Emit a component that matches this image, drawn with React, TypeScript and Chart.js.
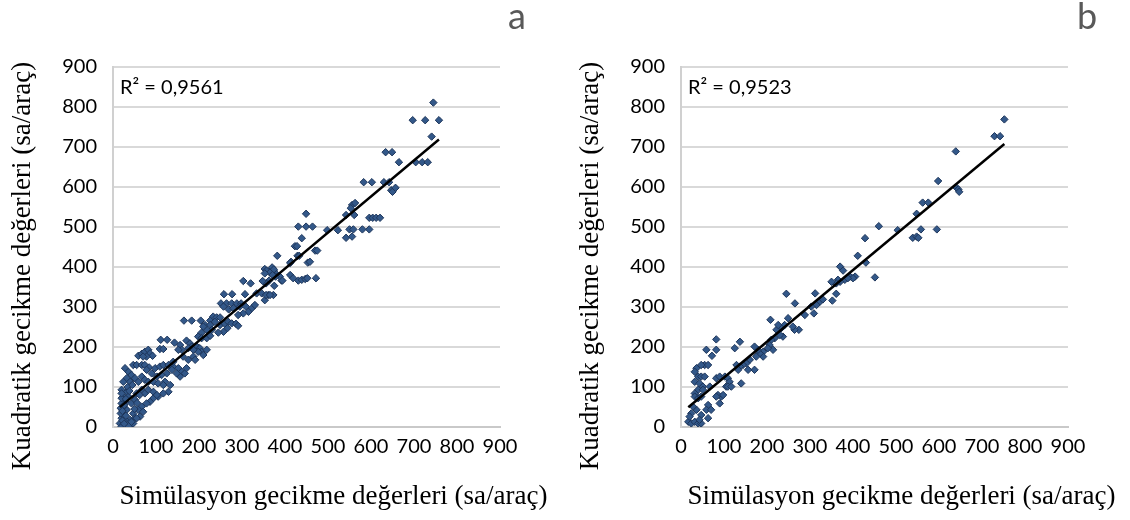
import React, { useEffect, useRef } from "react";
import { Chart, registerables } from "chart.js";

Chart.register(...registerables);

// ---------- data ----------
const simA = [
  745, 697, 726, 758, 741, 704, 719, 732, 665, 634, 649, 583, 602, 630, 642, 647, 650, 657,
  556, 563, 553, 542, 561, 596, 604, 612, 621, 580, 596, 550, 559, 542, 556, 498, 523, 449,
  431, 449, 464, 439, 423, 428, 382, 429, 433, 470, 475, 414, 412, 453, 458, 370, 374, 369,
  377, 353, 412, 419, 431, 439, 447, 452, 472, 363, 356, 392, 361, 373, 353,
  370, 374, 357, 365, 353, 388, 378, 394, 371, 303, 320, 348, 375, 334, 346, 356, 365,
  258, 277, 307, 251, 264, 276, 288, 298, 257, 269, 280, 295, 309, 323, 330, 315, 303, 291,
  165, 183, 204, 233, 241, 249, 226, 214, 226, 237, 249, 260, 268, 276, 286, 291, 266, 257,
  245, 230, 218, 206, 210, 198, 206, 218, 226, 111, 126, 109, 117, 143, 156, 171, 179, 183,
  195, 202, 206, 218, 210, 198, 187, 175, 160, 152, 59, 67, 74, 82, 86, 92, 78, 70, 47, 55,
  67, 74, 84, 98, 109, 117, 129, 140, 137, 125, 113, 102, 90, 78, 152, 160, 167, 156, 171,
  148, 133, 121, 28, 36, 43, 32, 24, 40, 51, 59, 67, 74, 82, 94, 105, 117, 129, 117, 105, 94,
  86, 78, 67, 59, 47, 70, 63, 51, 40, 28, 20, 24, 32, 24, 28, 24, 32, 20, 36, 43, 51, 55, 67,
  74, 82, 94, 102, 16, 24, 32, 40, 47, 20, 36, 28, 43, 55, 18, 18, 20, 20, 20, 140, 163, 175,
  187, 191, 22, 26, 30, 34, 38, 45, 50, 56, 62, 30, 22, 26,
];
const quadA = [
  811, 767, 767, 767, 726, 662, 662, 662, 662, 687, 687, 612, 612, 612, 612, 592, 588, 598,
  555, 560, 547, 530, 530, 523, 523, 523, 523, 494, 494, 494, 494, 473, 476, 492, 492, 533,
  501, 501, 501, 472, 452, 452, 428, 428, 428, 441, 441, 413, 410, 411, 413, 395, 390, 385,
  385, 395, 380, 372, 366, 368, 370, 372, 372, 366, 359, 366, 330, 330, 317,
  399, 394, 391, 386, 384, 376, 376, 366, 380, 365, 359, 365, 353, 334, 334, 330, 330,
  332, 332, 332, 309, 309, 309, 309, 309, 301, 294, 297, 301, 301, 297, 305, 288, 284, 280,
  266, 266, 266, 276, 274, 274, 266, 255, 255, 263, 255, 258, 263, 259, 258, 253, 247, 238,
  236, 243, 243, 236, 251, 226, 222, 222, 228, 218, 218, 195, 195, 211, 205, 216, 209, 201,
  201, 197, 188, 193, 180, 188, 193, 197, 193, 193, 178, 183, 188, 193, 184, 178, 176, 176, 155, 155,
  155, 155, 149, 147, 151, 155, 155, 151, 143, 134, 130, 126, 134, 143, 147, 138, 134, 126, 147,
  134, 105, 113, 147, 138, 130, 122, 113, 113, 122, 113, 126, 118, 113, 113, 109, 105, 88, 84, 76, 72,
  63, 59, 51, 43, 34, 38, 26, 22, 18, 13, 22, 30, 43, 51, 63, 76, 88, 93, 76, 59, 68, 84, 93,
  84, 93, 88, 80, 9, 5, 1, 5, 9, 1, 2, 18, 13, 22, 34, 47, 59, 72, 84, 163, 176, 168,
  176, 168, 40, 55, 70, 100, 90, 105, 45, 60, 80, 28, 16, 8,
];

const simB = [
  752, 729, 742, 639, 598, 640, 645, 647, 562, 575, 548, 558, 595, 539, 548, 552, 504, 460,
  428, 411, 430, 451, 370, 377, 393, 405, 381, 400, 370, 365, 388, 361,
  312, 323, 330, 315, 303, 309, 288, 274, 264, 260, 249, 241, 233, 237, 230, 222, 226, 218,
  245, 265, 352, 361, 350, 208, 210, 206, 214, 202, 191, 191, 183, 179, 171, 175, 171, 156,
  160, 152, 144, 137, 129, 133, 140, 125, 137, 82, 59, 82, 72, 55, 47, 63, 36, 32, 40, 47,
  55, 32, 43, 51, 40, 32, 32, 40, 47, 51, 67, 82, 90, 102, 109, 113, 105, 109, 117, 94, 86,
  82, 90, 98, 63, 59, 70, 63, 47, 36, 28, 24, 17, 24, 32, 40, 47, 43, 20,
];
const quadB = [
  769, 727, 727, 689, 615, 599, 594, 588, 561, 561, 533, 494, 494, 473, 476, 473, 492, 502,
  472, 428, 411, 374, 401, 391, 376, 376, 368, 372, 363, 368, 372, 359,
  334, 313, 319, 305, 301, 284, 280, 243, 243, 251, 272, 255, 247, 226, 230, 243, 255, 222,
  333, 309, 316, 333, 363, 268, 218, 205, 193, 197, 188, 176, 184, 193, 201, 176, 143, 143,
  168, 159, 155, 151, 155, 143, 109, 197, 213, 219, 193, 193, 178, 155, 155, 155, 147, 138, 126, 126,
  126, 113, 109, 101, 93, 84, 76, 72, 76, 93, 101, 122, 126, 126, 122, 113, 101, 101, 101, 76, 80,
  76, 59, 80, 55, 43, 43, 22, 30, 43, 51, 34, 13, 9, 13, 9, 9, 18, 26,
];

const axisTicks = [0, 100, 200, 300, 400, 500, 600, 700, 800, 900];
const r2Labels = ["0,9561", "0,9523"];
const panelLabels = ["a", "b"];
const xTitle = "Simülasyon gecikme değerleri (sa/araç)";
const yTitle = "Kuadratik gecikme değerleri (sa/araç)";

// ---------- helpers ----------
function linearFit(xs: number[], ys: number[]) {
  const n = Math.min(xs.length, ys.length);
  let mx = 0, my = 0;
  for (let i = 0; i < n; i++) { mx += xs[i]; my += ys[i]; }
  mx /= n; my /= n;
  let sxy = 0, sxx = 0;
  for (let i = 0; i < n; i++) { sxy += (xs[i] - mx) * (ys[i] - my); sxx += (xs[i] - mx) ** 2; }
  const slope = sxy / sxx;
  const intercept = my - slope * mx;
  const lo = Math.min(...xs.slice(0, n)), hi = Math.max(...xs.slice(0, n));
  return [
    { x: lo, y: intercept + slope * lo },
    { x: hi, y: intercept + slope * hi },
  ];
}

const textPlugin = {
  id: "panelText",
  afterDraw(chart: any, _args: any, opts: any) {
    const { ctx, chartArea } = chart;
    const cx = (chartArea.left + chartArea.right) / 2;
    const cy = (chartArea.top + chartArea.bottom) / 2;
    ctx.save();
    // R² label
    ctx.fillStyle = "#000";
    ctx.font = '20px Lato';
    ctx.textAlign = "left";
    ctx.textBaseline = "middle";
    ctx.fillText(`R² = ${opts.r2}`, chartArea.left + 7, chartArea.top + 21);
    // panel letter
    ctx.fillStyle = "#595959";
    ctx.font = '36px Lato';
    ctx.textAlign = "center";
    ctx.textBaseline = "alphabetic";
    ctx.fillText(opts.letter, opts.letterX, 29);
    // x title
    ctx.fillStyle = "#000";
    ctx.font = '27px "Liberation Serif"';
    ctx.textAlign = "center";
    ctx.textBaseline = "middle";
    ctx.fillText(xTitle, cx + 27, 497);
    // y title
    ctx.translate(opts.yTitleX, cy + 19);
    ctx.rotate(-Math.PI / 2);
    ctx.fillText(yTitle, 0, 0);
    ctx.restore();
  },
};

function makeConfig(xs: number[], ys: number[], idx: number, pad: any, yWidth: number, letterX: number, yTitleX: number) {
  const pts = xs.map((x, i) => ({ x, y: ys[i] }));
  const trend = linearFit(xs, ys);
  const tickFont = { family: "Lato", size: 20 };
  return {
    type: "scatter",
    data: {
      datasets: [
        {
          type: "line",
          data: trend,
          borderColor: "#000",
          borderWidth: 2.5,
          pointRadius: 0,
          fill: false,
          order: 0,
        },
        {
          data: pts,
          pointStyle: "rectRot",
          pointRadius: 3.7,
          backgroundColor: "#335889",
          borderColor: "#1d355a",
          borderWidth: 1,
          order: 1,
        },
      ],
    },
    options: {
      responsive: false,
      animation: false,
      events: [],
      layout: { padding: pad },
      plugins: {
        legend: { display: false },
        tooltip: { enabled: false },
        panelText: { r2: r2Labels[idx], letter: panelLabels[idx], letterX, yTitleX },
      },
      scales: {
        x: {
          type: "linear",
          min: axisTicks[0],
          max: axisTicks[axisTicks.length - 1],
          afterBuildTicks: (s: any) => { s.ticks = axisTicks.map((v) => ({ value: v })); },
          afterFit: (s: any) => { s.height = 93; },
          ticks: { font: tickFont, color: "#000", padding: 8, maxRotation: 0, autoSkip: false },
          grid: { display: false, drawTicks: false },
          border: { display: true, color: "#c9c9c9", width: 2 },
        },
        y: {
          type: "linear",
          min: axisTicks[0],
          max: axisTicks[axisTicks.length - 1],
          afterBuildTicks: (s: any) => { s.ticks = axisTicks.map((v) => ({ value: v })); },
          afterFit: (s: any) => { s.width = yWidth; },
          ticks: { font: tickFont, color: "#000", padding: 16, autoSkip: false },
          grid: { color: "#d9d9d9", lineWidth: 2, drawTicks: false },
          border: { display: true, color: "#d0d0d0", width: 2 },
        },
      },
    },
    plugins: [textPlugin],
  };
}

export default function App() {
  const refA = useRef<HTMLCanvasElement>(null);
  const refB = useRef<HTMLCanvasElement>(null);

  useEffect(() => {
    document.body.style.margin = "0";
    const a = new Chart(
      refA.current as HTMLCanvasElement,
      makeConfig(simA, quadA, 0, { left: 0, top: 67, right: 65, bottom: 0 }, 113, 517, 23) as any
    );
    const b = new Chart(
      refB.current as HTMLCanvasElement,
      makeConfig(simB, quadB, 1, { left: 0, top: 67, right: 62, bottom: 0 }, 116, 522, 26) as any
    );
    return () => { a.destroy(); b.destroy(); };
  }, []);

  return (
    <div style={{ position: "relative", width: 1130, height: 520, background: "#fff" }}>
      <canvas ref={refA} width={565} height={520} style={{ position: "absolute", left: 0, top: 0 }} />
      <canvas ref={refB} width={565} height={520} style={{ position: "absolute", left: 565, top: 0 }} />
    </div>
  );
}
